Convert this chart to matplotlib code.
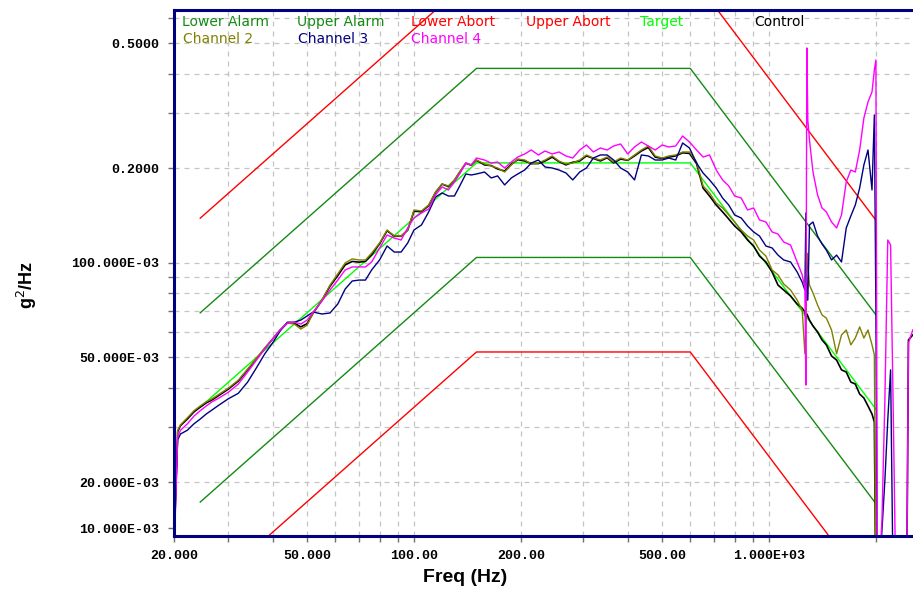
import matplotlib
matplotlib.use('Agg')
import matplotlib.pyplot as plt

# Frequency grid (Hz) shared by the measured channels
freq = [21.2, 21.6, 22, 23, 24, 25, 26, 27, 28, 30,
        32, 34, 36, 38, 40, 42, 44, 46, 48, 50,
        52, 55, 58, 61, 64, 67, 70, 73, 76, 80,
        84, 88, 92, 96, 100, 105, 110, 115, 120, 125,
        130, 135, 140, 145, 150,
        158, 165, 172, 180, 188, 196, 205, 214, 224, 234,
        245, 256, 268, 280, 293, 306, 320, 335, 350, 365,
        382, 400, 418, 437, 457, 478, 500, 522, 546, 571,
        597, 625, 652,
        680, 710, 740, 770, 800, 835, 870, 905, 940, 980,
        1020, 1060, 1100, 1150, 1200, 1240, 1262, 1270, 1278, 1286,
        1300, 1330, 1370, 1410, 1450, 1500, 1550, 1600, 1650, 1700,
        1750, 1800, 1850, 1900, 1950, 1980, 2000,
        2020, 2080, 2120, 2160, 2200, 2240, 2280, 2400, 2440, 2470, 2540]

control = [0.0150, 0.0290, 0.0303, 0.0318, 0.0335, 0.0347, 0.0358, 0.0366, 0.0376, 0.0396,
           0.0420, 0.0456, 0.0494, 0.0534, 0.0572, 0.0611, 0.0643, 0.0642, 0.0625, 0.0640,
           0.0692, 0.0758, 0.0842, 0.0910, 0.0985, 0.1010, 0.1005, 0.1010, 0.1060, 0.1150,
           0.1265, 0.1215, 0.1215, 0.1270, 0.1460, 0.1455, 0.1520, 0.1675, 0.1780, 0.1750,
           0.1830, 0.1955, 0.2075, 0.2045, 0.2120,
           0.2050, 0.2040, 0.1990, 0.1960, 0.2060, 0.2130, 0.2110, 0.2070, 0.2070, 0.2110,
           0.2170, 0.2100, 0.2050, 0.2090, 0.2110, 0.2190, 0.2150, 0.2110, 0.2160, 0.2080,
           0.2140, 0.2120, 0.2190, 0.2270, 0.2330, 0.2170, 0.2150, 0.2170, 0.2190, 0.2240,
           0.2230, 0.2070, 0.1730,
           0.1632, 0.1528, 0.1452, 0.1379, 0.1310, 0.1254, 0.1182, 0.1131, 0.1051, 0.1006,
           0.0935, 0.0849, 0.0819, 0.0784, 0.0739, 0.0717, 0.0697, 0.0667, 0.0687, 0.0677,
           0.0657, 0.0629, 0.0602, 0.0568, 0.0548, 0.0505, 0.0490, 0.0456, 0.0449, 0.0417,
           0.0411, 0.0382, 0.0371, 0.0350, 0.0330, 0.0311, 0.008,
           0.008, 0.008, 0.008, 0.008, 0.008, 0.008, 0.008, 0.008, 0.008, 0.0568, 0.0589]

channel_2 = [0.0154, 0.0293, 0.0305, 0.0321, 0.0338, 0.0350, 0.0361, 0.0369, 0.0379, 0.0399,
             0.0423, 0.0459, 0.0497, 0.0536, 0.0572, 0.0611, 0.0643, 0.0638, 0.0615, 0.0633,
             0.0692, 0.0761, 0.0849, 0.0922, 0.0999, 0.1029, 0.1021, 0.1021, 0.1074, 0.1156,
             0.1272, 0.1217, 0.1217, 0.1272, 0.1473, 0.1462, 0.1528, 0.1681, 0.1783, 0.1757,
             0.1836, 0.1961, 0.2078, 0.2049, 0.2125,
             0.2064, 0.2034, 0.2004, 0.1946, 0.2049, 0.2141, 0.2125, 0.2064, 0.2078, 0.2125,
             0.2189, 0.2109, 0.2064, 0.2078, 0.2125, 0.2205, 0.2156, 0.2125, 0.2172, 0.2094,
             0.2156, 0.2125, 0.2205, 0.2287, 0.2355, 0.2189, 0.2156, 0.2189, 0.2205, 0.2254,
             0.2254, 0.2094, 0.1757,
             0.1669, 0.1550, 0.1495, 0.1420, 0.1349, 0.1272, 0.1217, 0.1182, 0.1098, 0.1051,
             0.0949, 0.0915, 0.0856, 0.0819, 0.0761, 0.0707, 0.0513, 0.0611, 0.1074, 0.0984,
             0.0849, 0.0801, 0.0734, 0.0682, 0.0667, 0.0611, 0.0513, 0.0589, 0.0611, 0.0548,
             0.0576, 0.0625, 0.0576, 0.0611, 0.0548, 0.0509, 0.008,
             0.008, 0.008, 0.008, 0.008, 0.008, 0.008, 0.008, 0.008, 0.008, 0.008, 0.008]

channel_3 = [0.0150, 0.0273, 0.0285, 0.0293, 0.0307, 0.0318, 0.0330, 0.0340, 0.0350, 0.0369,
             0.0384, 0.0417, 0.0463, 0.0513, 0.0556, 0.0607, 0.0647, 0.0647, 0.0657, 0.0677,
             0.0697, 0.0687, 0.0692, 0.0739, 0.0825, 0.0875, 0.0881, 0.0881, 0.0949, 0.1021,
             0.1131, 0.1082, 0.1082, 0.1156, 0.1272, 0.1320, 0.1452, 0.1620, 0.1669, 0.1632,
             0.1632, 0.1770, 0.1918, 0.1904, 0.1918,
             0.1946, 0.1863, 0.1891, 0.1770, 0.1863, 0.1918, 0.1975, 0.2078, 0.2125, 0.2019,
             0.2004, 0.1975, 0.1932, 0.1836, 0.1946, 0.2004, 0.2156, 0.2205, 0.2205, 0.2125,
             0.2004, 0.1946, 0.1836, 0.2205, 0.2189, 0.2125, 0.2125, 0.2156, 0.2125, 0.2407,
             0.2321, 0.2078, 0.1932,
             0.1836, 0.1731, 0.1608, 0.1528, 0.1420, 0.1389, 0.1310, 0.1254, 0.1217, 0.1131,
             0.1115, 0.1058, 0.1021, 0.1006, 0.0935, 0.0868, 0.0819, 0.1441, 0.0761, 0.0761,
             0.1320, 0.1349, 0.1217, 0.1148, 0.1098, 0.1021, 0.1058, 0.1006, 0.1291, 0.1410,
             0.1528, 0.1731, 0.2049, 0.2287, 0.1706, 0.2957, 0.0707,
             0.008, 0.0141, 0.0203, 0.0316, 0.0456, 0.008, 0.008, 0.008, 0.008, 0.008, 0.008]

channel_4 = [0.0140, 0.0279, 0.0293, 0.0307, 0.0325, 0.0338, 0.0350, 0.0361, 0.0369, 0.0387,
             0.0411, 0.0449, 0.0490, 0.0532, 0.0572, 0.0611, 0.0643, 0.0647, 0.0638, 0.0657,
             0.0697, 0.0755, 0.0819, 0.0881, 0.0949, 0.0970, 0.0970, 0.0970, 0.1006, 0.1114,
             0.1226, 0.1199, 0.1182, 0.1291, 0.1389, 0.1441, 0.1484, 0.1645, 0.1744, 0.1706,
             0.1809, 0.1932, 0.2078, 0.2049, 0.2156,
             0.2125, 0.2078, 0.2094, 0.2004, 0.2094, 0.2172, 0.2221, 0.2287, 0.2205, 0.2270,
             0.2221, 0.2254, 0.2189, 0.2156, 0.2287, 0.2372, 0.2254, 0.2321, 0.2287, 0.2355,
             0.2390, 0.2221, 0.2338, 0.2425, 0.2355, 0.2287, 0.2372, 0.2338, 0.2355, 0.2534,
             0.2425, 0.2287, 0.2172,
             0.2205, 0.1975, 0.1836, 0.1757, 0.1632, 0.1608, 0.1473, 0.1495, 0.1369, 0.1349,
             0.1254, 0.1235, 0.1165, 0.1139, 0.1006, 0.0915, 0.0831, 0.0408, 0.4833, 0.2850,
             0.2461, 0.1946, 0.1645, 0.1495, 0.1452, 0.1349, 0.1291, 0.1420, 0.1809, 0.1975,
             0.1946, 0.2287, 0.2892, 0.3252, 0.3500, 0.4113, 0.4425,
             0.008, 0.0152, 0.0366, 0.1182, 0.1139, 0.0316, 0.008, 0.008, 0.008, 0.0556, 0.0611]

# Reference profile and tolerance lines
profile_freq = [25, 150, 600, 2000]
target = [0.0347, 0.208, 0.208, 0.0342]
upper_alarm = [0.0693, 0.416, 0.416, 0.0683]
lower_alarm = [0.0173, 0.104, 0.104, 0.0171]
upper_abort = [0.1387, 0.832, 0.832, 0.1367]
lower_abort = [0.00867, 0.052, 0.052, 0.00854]

x_min, x_max = 21.13, 2544
y_min, y_max = 0.01352, 0.6384

x_major = [x_min, 50, 100, 200, 500, 1000]
x_labels = ['20.000', '50.000', '100.00', '200.00', '500.00', '1.000E+03']
x_minor = [30, 40, 60, 70, 80, 90, 300, 400, 600, 700, 800, 900, 2000]
y_major = [0.01429, 0.02, 0.05, 0.1, 0.2, 0.5]
y_labels = ['10.000E-03', '20.000E-03', '50.000E-03', '100.000E-03', '0.2000', '0.5000']
y_minor = [0.03, 0.04, 0.06, 0.07, 0.08, 0.09, 0.3, 0.4, 0.6]

fig = plt.figure(figsize=(9.13, 5.91), dpi=100)
ax = fig.add_axes([0.1909, 0.0936, 0.8091, 0.8895])

navy = '#000080'
ax.plot(profile_freq, lower_alarm, color='#138a13', lw=1)
ax.plot(profile_freq, upper_alarm, color='#138a13', lw=1)
ax.plot(profile_freq, lower_abort, color='#ff0000', lw=1)
ax.plot(profile_freq, upper_abort, color='#ff0000', lw=1)
ax.plot(profile_freq, target, color='#00ff00', lw=1)
ax.plot(freq, control, color='black', lw=1.2)
ax.plot(freq, channel_2, color='#808000', lw=1.0)
ax.plot(freq, channel_3, color=navy, lw=1.0)
ax.plot(freq, channel_4, color='#ff00ff', lw=1.0)

ax.set_xscale('log')
ax.set_yscale('log')
ax.set_xlim(x_min, x_max)
ax.set_ylim(y_min, y_max)

tick_font = dict(family='Liberation Mono', weight='bold', size=9.5)
ax.set_xticks(x_major)
ax.set_xticklabels(x_labels, fontdict=tick_font)
ax.set_xticks(x_minor, minor=True)
ax.set_yticks(y_major)
ax.set_yticklabels(y_labels, fontdict=tick_font)
ax.set_yticks(y_minor, minor=True)
ax.xaxis.set_minor_formatter(plt.NullFormatter())
ax.yaxis.set_minor_formatter(plt.NullFormatter())
ax.tick_params(which='both', direction='out', length=4, width=1, color='#707070')
ax.tick_params(axis='y', pad=7)
ax.tick_params(axis='x', pad=6)

ax.grid(True, which='both', color='#c4c4c4', linestyle=(0, (4, 4)), linewidth=0.9)
ax.set_axisbelow(True)
ax.yaxis.get_major_ticks()[0].gridline.set_visible(False)

for side in ['left', 'bottom', 'top']:
    ax.spines[side].set_color(navy)
    ax.spines[side].set_linewidth(2.2)
ax.spines['right'].set_visible(False)

fig.text(465 / 913, 1 - 578 / 591, 'Freq (Hz)', ha='center', va='center',
         family='Liberation Sans', weight='bold', size=14)
fig.text(27 / 913, 1 - 285 / 591, 'g$^2$/Hz', ha='center', va='center', rotation=90,
         family='Liberation Sans', weight='bold', size=13)

# Legend entries as coloured text inside the plot
legend_items = [
    ('Lower Alarm', '#138a13', 181.7, 22),
    ('Upper Alarm', '#138a13', 297.3, 22),
    ('Lower Abort', '#ff0000', 410.7, 22),
    ('Upper Abort', '#ff0000', 525.7, 22),
    ('Target', '#00ff00', 640, 22),
    ('Control', 'black', 754.3, 22),
    ('Channel 2', '#808000', 182.7, 39),
    ('Channel 3', navy, 298.3, 39),
    ('Channel 4', '#ff00ff', 410.7, 39),
]
for label, color, px, py in legend_items:
    fig.text(px / 913, 1 - py / 591, label, color=color, ha='left', va='center',
             family='DejaVu Sans', size=10)

fig.savefig('out.png', dpi=100)
